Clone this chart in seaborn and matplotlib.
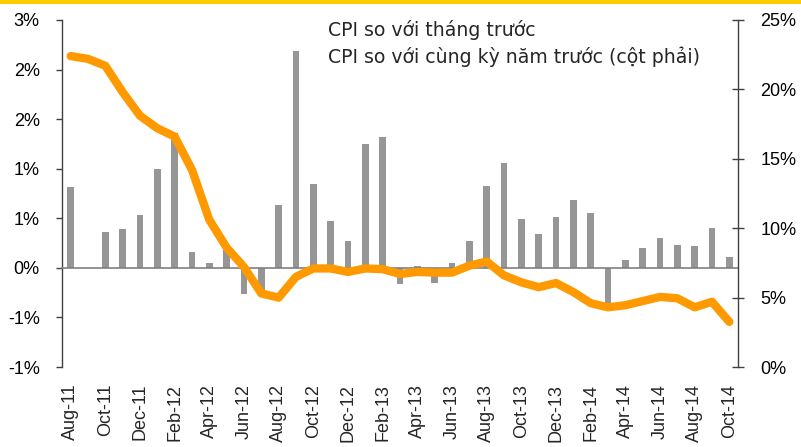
import numpy as np
import pandas as pd
import matplotlib
matplotlib.use("Agg")
import matplotlib.pyplot as plt
from matplotlib.patches import Rectangle
from matplotlib.lines import Line2D
from matplotlib.patches import Patch
import seaborn as sns

# ---------------- data ----------------
months = ["Aug-11", "Sep-11", "Oct-11", "Nov-11", "Dec-11",
          "Jan-12", "Feb-12", "Mar-12", "Apr-12", "May-12", "Jun-12", "Jul-12",
          "Aug-12", "Sep-12", "Oct-12", "Nov-12", "Dec-12",
          "Jan-13", "Feb-13", "Mar-13", "Apr-13", "May-13", "Jun-13", "Jul-13",
          "Aug-13", "Sep-13", "Oct-13", "Nov-13", "Dec-13",
          "Jan-14", "Feb-14", "Mar-14", "Apr-14", "May-14", "Jun-14", "Jul-14",
          "Aug-14", "Sep-14", "Oct-14"]

cpi_mom = [0.82, 0.0, 0.36, 0.39, 0.53,
           1.00, 1.36, 0.16, 0.05, 0.18, -0.26, -0.28,
           0.63, 2.19, 0.85, 0.47, 0.27,
           1.25, 1.32, -0.16, 0.02, -0.15, 0.05, 0.27,
           0.83, 1.06, 0.49, 0.34, 0.51,
           0.68, 0.55, -0.43, 0.08, 0.20, 0.30, 0.23,
           0.22, 0.40, 0.11]

cpi_yoy = [22.4, 22.2, 21.7, 19.8, 18.1,
           17.2, 16.6, 14.2, 10.6, 8.6, 7.2, 5.3,
           5.0, 6.5, 7.1, 7.1, 6.85,
           7.1, 7.05, 6.7, 6.85, 6.8, 6.8, 7.3,
           7.6, 6.6, 6.1, 5.75, 6.05,
           5.4, 4.6, 4.3, 4.45, 4.75, 5.05, 4.95,
           4.3, 4.7, 3.25]

left_tick_values = [-1.0, -0.5, 0.0, 0.5, 1.0, 1.5, 2.0, 2.5]
left_tick_labels = ["-1%", "-1%", "0%", "1%", "1%", "2%", "2%", "3%"]
right_tick_values = [0, 5, 10, 15, 20, 25]
right_tick_labels = ["0%", "5%", "10%", "15%", "20%", "25%"]

label_mom = "CPI so với tháng trước"
label_yoy = "CPI so với cùng kỳ năm trước (cột phải)"

df = pd.DataFrame({"month": months, "mom": cpi_mom, "yoy": cpi_yoy,
                   "pos": np.arange(len(months))})

# ---------------- figure ----------------
sns.set_style("white")
plt.rcParams["font.family"] = ["Liberation Sans", "DejaVu Sans"]

W, H = 801, 447
fig = plt.figure(figsize=(W / 100, H / 100), dpi=100)
fig.subplots_adjust(left=62 / W, right=738 / W, top=1 - 20 / H, bottom=1 - 367 / H)
ax = fig.add_subplot(111)

bar_color = "#969696"
line_color = "#FF9900"
axis_color = "#404040"

sns.barplot(data=df, x="month", y="mom", order=months, color=bar_color,
            saturation=1, width=0.4, errorbar=None, linewidth=0, ax=ax)

ax2 = ax.twinx()
sns.lineplot(data=df, x="pos", y="yoy", sort=False, color=line_color,
             linewidth=6, ax=ax2, legend=False)
for ln in ax2.lines:
    ln.set_solid_capstyle("round")
    ln.set_solid_joinstyle("round")

n = len(months)
ax.set_xlim(-0.5, n - 0.5)
ax.set_ylim(-1.0, 2.5)
ax2.set_ylim(0, 25)

# left axis
ax.set_yticks(left_tick_values)
ax.set_yticklabels(left_tick_labels)
ax.tick_params(axis="y", which="major", direction="out", length=4, width=1,
               color=axis_color, pad=12, labelsize=13, labelcolor="black")
ax.set_ylabel("")
ax.set_xlabel("")

# right axis
ax2.set_yticks(right_tick_values)
ax2.set_yticklabels(right_tick_labels)
ax2.tick_params(axis="y", which="major", direction="inout", length=8, width=1,
                color=axis_color, pad=12, labelsize=13, labelcolor="black")
ax2.set_ylabel("")
ax2.set_xlabel("")

# spines
for s in ["top", "right"]:
    ax.spines[s].set_visible(False)
for s in ["top", "left", "bottom"]:
    ax2.spines[s].set_visible(False)
ax.spines["left"].set_color(axis_color)
ax.spines["left"].set_linewidth(1)
ax2.spines["right"].set_color(axis_color)
ax2.spines["right"].set_linewidth(1)

# category axis drawn at zero with boundary ticks every 2 categories
ax.spines["bottom"].set_position(("data", 0))
ax.spines["bottom"].set_color("#808080")
ax.spines["bottom"].set_linewidth(1.2)
ax.set_xticks(np.arange(1.5, n - 1, 2))
ax.set_xticklabels([])
ax.tick_params(axis="x", which="major", direction="out", length=5, width=1,
               color=axis_color)

# labels at the bottom of the plot area
sec = ax.secondary_xaxis("bottom")
sec.set_xticks(np.arange(0, n, 2))
sec.set_xticklabels(months[::2], rotation=90, fontsize=13)
sec.tick_params(axis="x", length=0, pad=12)
sec.spines["bottom"].set_visible(False)

# legend (text only)
handles = [Patch(color=bar_color), Line2D([], [], color=line_color)]
leg = ax2.legend(handles, [label_mom, label_yoy], loc="upper left",
                 bbox_to_anchor=(249 / 676, 1.05), frameon=False,
                 handlelength=0, handletextpad=0, labelspacing=0.36,
                 prop={"family": "DejaVu Sans", "size": 13.6})
for h in leg.legend_handles:
    h.set_visible(False)

# yellow top rule
fig.add_artist(Rectangle((0, 1 - 4 / H), 1, 4 / H, transform=fig.transFigure,
                         color="#FFCC00", linewidth=0))

fig.savefig("out.png", dpi=100)
